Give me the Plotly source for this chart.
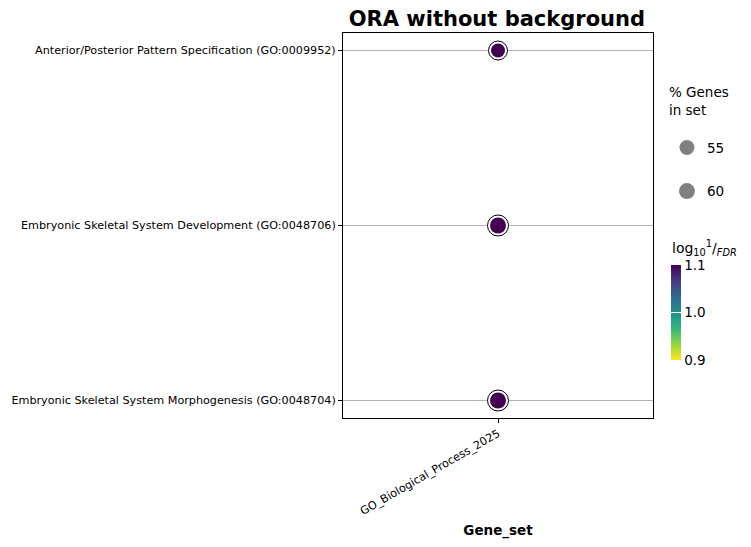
import plotly.graph_objects as go

# ---- data ----
terms = [
    "Embryonic Skeletal System Morphogenesis (GO:0048704)",
    "Embryonic Skeletal System Development (GO:0048706)",
    "Anterior/Posterior Pattern Specification (GO:0009952)",
]
gene_sets = ["GO_Biological_Process_2025"] * 3
pct_genes = [60, 60, 55]
neg_log10_fdr = [1.1, 1.1, 1.1]
size_legend_values = [55, 60]
cbar_ticks = [0.9, 1.0, 1.1]

FONT = "DejaVu Sans"


def msize(p):
    return 14 + (p - 55) * 0.4


inner = [msize(p) for p in pct_genes]
outer = [s + 5 for s in inner]

fig = go.Figure()

# outer ring
fig.add_trace(go.Scatter(
    x=gene_sets, y=terms, mode="markers",
    marker=dict(size=outer, color="white", opacity=1, line=dict(color="black", width=1)),
    showlegend=False, hoverinfo="skip",
))
# coloured dots
fig.add_trace(go.Scatter(
    x=gene_sets, y=terms, mode="markers",
    marker=dict(
        size=inner, color=neg_log10_fdr, colorscale="Viridis", reversescale=True,
        cmin=0.9, cmax=1.1, opacity=1, line=dict(width=0),
        colorbar=dict(
            x=1.058, xanchor="left", y=0.1506, yanchor="bottom",
            len=95, lenmode="pixels", thickness=10, outlinewidth=0,
            ypad=0, xpad=0,
            tickvals=cbar_ticks, ticktext=[f"{t:.1f}" for t in cbar_ticks],
            ticks="inside", ticklen=10, tickcolor="white",
            tickfont=dict(family=FONT, size=13.5, color="black"),
        ),
    ),
    showlegend=False,
))

# size legend
for i, v in enumerate(size_legend_values):
    fig.add_trace(go.Scatter(
        x=[None], y=[None], mode="markers", name=str(v),
        marker=dict(size=msize(v) + 1, color="gray", opacity=1),
        legendgroup=f"g{i}", showlegend=True,
    ))

# colorbar title
fig.add_annotation(
    text="log<sub>10</sub><sup>1</sup>/<sub><i>FDR</i></sub>",
    xref="paper", yref="paper", x=1.055, y=0.41, xanchor="left", yanchor="bottom",
    showarrow=False, font=dict(family=FONT, size=14),
)

fig.update_layout(
    width=743, height=539,
    margin=dict(l=335, r=98, t=25, b=129, autoexpand=False),
    paper_bgcolor="white", plot_bgcolor="white",
    font=dict(family=FONT, color="black"),
    title=dict(text="<b>ORA without background</b>", x=0.658, xanchor="center",
               y=0.98, yanchor="middle", font=dict(family=FONT, size=21)),
    legend=dict(
        title=dict(text="% Genes<br>in set<br> ", side="top", font=dict(family=FONT, size=13.5)),
        x=1.045, xanchor="left", y=0.879, yanchor="top",
        itemsizing="trace", tracegroupgap=23,
        font=dict(family=FONT, size=13.5), bgcolor="rgba(0,0,0,0)",
    ),
)

fig.update_xaxes(
    type="category", range=[-0.5, 0.5], showgrid=False,
    showline=True, linecolor="black", mirror=True, linewidth=1,
    ticks="outside", ticklen=4, tickcolor="black",
    tickangle=-30, tickfont=dict(family=FONT, size=11.2),
    title=dict(text="<b>Gene_set</b>", font=dict(family=FONT, size=13.5), standoff=8),
    zeroline=False,
)
fig.update_yaxes(
    type="category", categoryorder="array", categoryarray=terms,
    range=[-0.1, 2.1], showgrid=True, gridcolor="#b0b0b0", gridwidth=1,
    showline=True, linecolor="black", mirror=True, linewidth=1,
    ticks="outside", ticklen=4, tickcolor="black",
    tickfont=dict(family=FONT, size=11.2), zeroline=False,
)

fig.write_html("out.html")
